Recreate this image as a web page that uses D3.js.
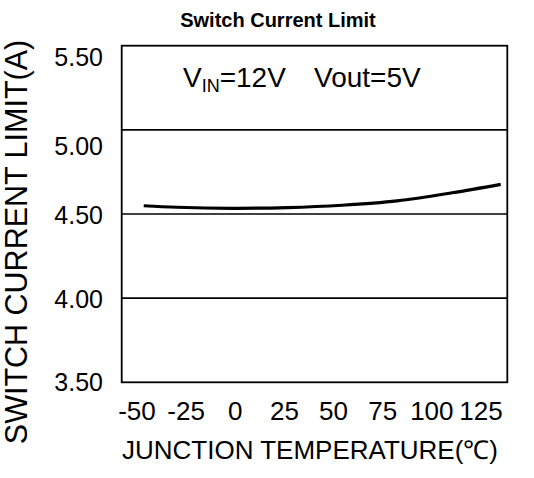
<!DOCTYPE html>
<html>
<head>
<meta charset="utf-8">
<script src="https://cdn.jsdelivr.net/npm/d3@7"></script>
<style>
  html, body { margin: 0; padding: 0; background: #fff; }
  svg { display: block; }
  text { font-family: "Liberation Sans", Arial, sans-serif; fill: #000; }
</style>
</head>
<body>
<svg id="chart" width="534" height="478"></svg>
<script>
// ---- data ----
const temperatures = [-40, -25, 0, 25, 50, 75, 100, 122];
const currentLimit = [4.549, 4.540, 4.534, 4.538, 4.552, 4.578, 4.626, 4.676];
const xTickValues = [-50, -25, 0, 25, 50, 75, 100, 125];
const yTickValues = [3.5, 4.0, 4.5, 5.0, 5.5];
const gridValues = [4.0, 4.5, 5.0];
const titleText = "Switch Current Limit";
const xTitleText = "JUNCTION TEMPERATURE(\u2103)";
const yTitleText = "SWITCH CURRENT LIMIT(A)";

// ---- layout ----
const svg = d3.select("#chart");
const box = { left: 121.7, right: 507.3, top: 45.7, bottom: 382.3 };

const x = d3.scaleLinear().domain([-50, 125]).range([box.left, box.right]);
const y = d3.scaleLinear().domain([3.5, 5.5]).range([box.bottom, box.top]);
// label placement scales (labels in the original sit slightly off the grid)
const xLabel = d3.scaleLinear().domain([-50, 125]).range([137, 481]);
const yLabel = d3.scaleLinear().domain([3.5, 4.5, 5.0, 5.5]).range([382, 215, 146, 57]);

svg.append("rect").attr("width", 534).attr("height", 478).attr("fill", "#fff");

// gridlines
svg.append("g").selectAll("line").data(gridValues).join("line")
  .attr("x1", box.left).attr("x2", box.right)
  .attr("y1", d => y(d)).attr("y2", d => y(d))
  .attr("stroke", "#000").attr("stroke-width", 1.6);

// frame
svg.append("rect")
  .attr("x", box.left).attr("y", box.top)
  .attr("width", box.right - box.left).attr("height", box.bottom - box.top)
  .attr("fill", "none").attr("stroke", "#000").attr("stroke-width", 1.8);

// data curve
const line = d3.line().x((d, i) => x(temperatures[i])).y(d => y(d)).curve(d3.curveCatmullRom.alpha(0.5));
svg.append("path").datum(currentLimit)
  .attr("d", line).attr("fill", "none")
  .attr("stroke", "#000").attr("stroke-width", 3.2).attr("stroke-linecap", "butt");

// y tick labels
svg.append("g").selectAll("text").data(yTickValues).join("text")
  .attr("x", 103).attr("y", d => yLabel(d))
  .attr("text-anchor", "end").attr("dominant-baseline", "central")
  .style("font-size", "25px")
  .text(d => d3.format(".2f")(d));

// x tick labels
svg.append("g").selectAll("text").data(xTickValues).join("text")
  .attr("x", d => xLabel(d)).attr("y", 420)
  .attr("text-anchor", "middle")
  .style("font-size", "26px")
  .text(d => d);

// title
svg.append("text").attr("x", 278).attr("y", 27)
  .attr("text-anchor", "middle")
  .style("font-size", "20px").style("font-weight", "bold")
  .text(titleText);

// x axis title
svg.append("text").attr("x", 310).attr("y", 459)
  .attr("text-anchor", "middle")
  .style("font-size", "26px")
  .text(xTitleText);

// y axis title
svg.append("text")
  .attr("transform", "translate(27,242) rotate(-90)")
  .attr("text-anchor", "middle")
  .style("font-size", "30.5px")
  .text(yTitleText);

// condition annotation
const ann = svg.append("text").attr("x", 183).attr("y", 87).style("font-size", "28px");
ann.append("tspan").text("V");
ann.append("tspan").attr("dy", 5).style("font-size", "18px").text("IN");
ann.append("tspan").attr("dy", -5).text("=12V");
svg.append("text").attr("x", 314).attr("y", 87).style("font-size", "28px").text("Vout=5V");
</script>
</body>
</html>
